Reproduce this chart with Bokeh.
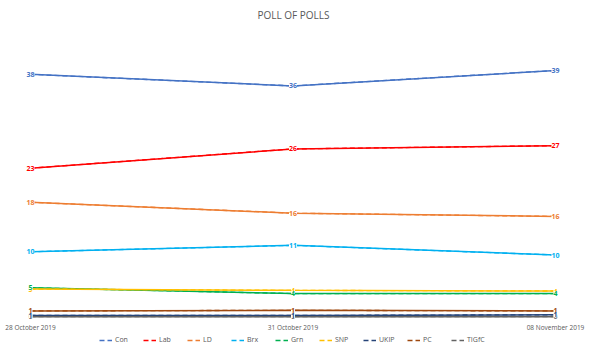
from bokeh.plotting import figure
from bokeh.models import ColumnDataSource, LabelSet, Range1d, Legend, LegendItem
from bokeh.core.properties import value
from bokeh.embed import file_html
from bokeh.resources import INLINE

dates = ["28 October 2019", "31 October 2019", "08 November 2019"]
parties = ["Con", "Lab", "LD", "Brx", "Grn", "SNP", "UKIP", "PC", "TIGfC"]
con = [38.0, 36.2, 38.6]
lab = [23.4, 26.4, 26.9]
ld = [18.1, 16.4, 15.9]
brx = [10.4, 11.4, 9.9]
grn = [4.8, 3.9, 3.9]
snp = [4.6, 4.4, 4.3]
ukip = [0.5, 0.5, 0.6]
pc = [1.2, 1.3, 1.2]
tigfc = [0.3, 0.3, 0.3]
colors = ["#4472C4", "#FF0000", "#ED7D31", "#00B0F0", "#00B050", "#FFC000", "#264478", "#9E480E", "#636363"]

series = [con, lab, ld, brx, grn, snp, ukip, pc, tigfc]
xs = list(range(len(dates)))

p = figure(width=586, height=344, output_backend="svg", toolbar_location=None,
           x_range=Range1d(-0.1143, 2.1181), y_range=Range1d(-4.02, 45.44),
           min_border_left=0, min_border_right=0, min_border_top=24, min_border_bottom=0)
p.title.text = "POLL OF POLLS"
p.title.align = "center"
p.title.text_font = "Open Sans"
p.title.text_font_size = "10px"
p.title.text_font_style = "normal"
p.title.text_color = "#595959"
p.title.standoff = 10

p.outline_line_color = None
p.grid.visible = False
p.axis.visible = False

# category labels along the bottom
date_src = ColumnDataSource(dict(x=xs, y=[0] * len(xs), t=dates))
p.add_layout(LabelSet(x="x", y="y", text="t", source=date_src, y_offset=-9,
                      text_font=value("Open Sans"), text_font_size=value("6.5px"),
                      text_color=value("#595959"),
                      text_align="center", text_baseline="middle"))

items = []
srcs = []
for name, vals, col in zip(parties, series, colors):
    src = ColumnDataSource(dict(x=xs, y=vals, t=[str(int(v + 0.5)) for v in vals]))
    proxy = p.line("x", "y", source=src, line_color=col, line_width=1.3, line_dash="5 3")
    p.line("x", "y", source=src, line_color=col, line_width=1.5)
    srcs.append((col, src))
    items.append(LegendItem(label=name, renderers=[proxy]))

for col, src in srcs[::-1]:
    p.add_layout(LabelSet(x="x", y="y", text="t", source=src, text_color=value(col),
                          text_font=value("Open Sans"), text_font_size=value("7px"),
                          text_font_style=value("bold"),
                          text_align="center", text_baseline="middle",
                          background_fill_color="white", background_fill_alpha=1.0))

legend = Legend(items=items, orientation="horizontal", location="bottom_center",
                label_text_font="Open Sans", label_text_font_size="7px", label_text_color="#595959",
                glyph_width=13, glyph_height=8, label_standoff=3, spacing=8,
                padding=0, margin=0, border_line_color=None, background_fill_alpha=0)
p.add_layout(legend, "center")

open("out.html", "w").write(file_html(p, INLINE))
